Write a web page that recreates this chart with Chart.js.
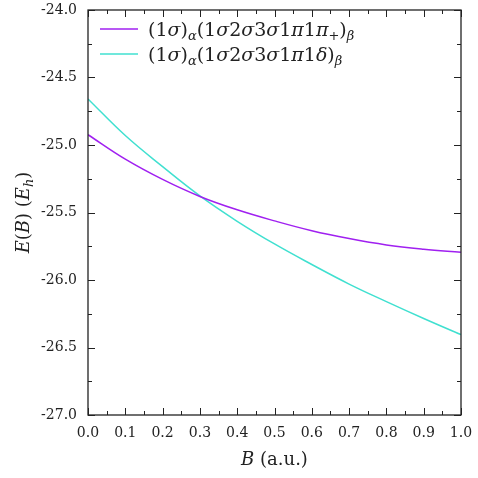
<!DOCTYPE html>
<html>
<head>
<meta charset="utf-8">
<script src="https://cdn.jsdelivr.net/npm/chart.js@4.4.0/dist/chart.umd.min.js"></script>
<style>
  html, body { margin: 0; padding: 0; background: #fff; }
  #wrap { width: 478px; height: 478px; }
</style>
</head>
<body>
<div id="wrap"><canvas id="energy-chart" width="478" height="478"></canvas></div>
<script>
// magnetic field strength B (a.u.)
const bValues = [0.0, 0.1, 0.2, 0.3, 0.4, 0.5, 0.6, 0.7, 0.8, 0.9, 1.0];
// energies (E_h)
const energyPiPlus = [-24.924, -25.105, -25.255, -25.381, -25.480, -25.562, -25.635, -25.693, -25.740, -25.772, -25.795];
const energyDelta = [-24.659, -24.930, -25.160, -25.377, -25.565, -25.733, -25.885, -26.030, -26.160, -26.285, -26.405];

// _{..} = subscript, |..| = upright text, other letters italic (math)
const seriesLabels = ['(1σ)_{α}(1σ2σ3σ1π1π_{+})_{β}', '(1σ)_{α}(1σ2σ3σ1π1δ)_{β}'];
const seriesColors = ['#a020f0', '#40e0d0'];
const xTitle = 'B |(a.u.)|';
const yTitle = 'E(B) (E_{h})';

const xMin = 0, xMax = 1, xStep = 0.1;
const yMin = -27, yMax = -24, yStep = 0.5;

const FONT = '"DejaVu Serif"';

function parseRich(str) {
    let segs = [];
    let sub = false, roman = false;
    for (let i = 0; i < str.length; i++) {
        let c = str[i];
        if (c === '_' && str[i + 1] === '{') { sub = true; i++; continue; }
        if (c === '}' && sub) { sub = false; continue; }
        if (c === '|') { roman = !roman; continue; }
        let italic = !roman && /[A-Za-z\u0370-\u03FF]/.test(c);
        let last = segs[segs.length - 1];
        if (last && last.sub === sub && last.italic === italic) {
            last.t += c;
        } else {
            segs.push({ t: c, sub: sub, italic: italic });
        }
    }
    return segs;
}

function drawRich(ctx, str, x, y, size, align) {
    let segs = parseRich(str);
    let total = 0;
    segs.forEach(s => {
        s.font = (s.italic ? 'italic ' : '') + (s.sub ? Math.round(size * 0.7) : size) + 'px ' + FONT;
        ctx.font = s.font;
        s.w = ctx.measureText(s.t).width;
        total += s.w;
    });
    let cx = align === 'center' ? x - total / 2 : x;
    ctx.textAlign = 'left';
    ctx.textBaseline = 'alphabetic';
    segs.forEach(s => {
        ctx.font = s.font;
        ctx.fillText(s.t, cx, y + (s.sub ? size * 0.22 : 0));
        cx += s.w;
    });
}

// closed frame with inward major/minor ticks on all four sides
const frameTicks = {
    id: 'frameTicks',
    afterDraw(chart) {
        const { ctx, chartArea: a, scales } = chart;
        const xs = scales.x, ys = scales.y;
        ctx.save();
        ctx.strokeStyle = '#222';
        ctx.lineWidth = 1.3;
        ctx.strokeRect(a.left, a.top, a.right - a.left, a.bottom - a.top);
        ctx.lineWidth = 1;
        ctx.beginPath();
        for (let v = xMin; v <= xMax + 1e-9; v += xStep / 2) {
            let major = Math.abs(Math.round(v / xStep) * xStep - v) < 1e-6;
            let len = major ? 7 : 4;
            let px = Math.round(xs.getPixelForValue(v)) + 0.5;
            ctx.moveTo(px, a.bottom); ctx.lineTo(px, a.bottom - len);
            ctx.moveTo(px, a.top); ctx.lineTo(px, a.top + len);
        }
        for (let v = yMin; v <= yMax + 1e-9; v += yStep / 2) {
            let major = Math.abs(Math.round(v / yStep) * yStep - v) < 1e-6;
            let len = major ? 7 : 4;
            let py = Math.round(ys.getPixelForValue(v)) + 0.5;
            ctx.moveTo(a.left, py); ctx.lineTo(a.left + len, py);
            ctx.moveTo(a.right, py); ctx.lineTo(a.right - len, py);
        }
        ctx.stroke();
        ctx.restore();
    }
};

// legend and axis titles with italics and subscripts
const richText = {
    id: 'richText',
    afterDraw(chart) {
        const { ctx, chartArea: a } = chart;
        ctx.save();
        ctx.fillStyle = '#222';
        chart.data.datasets.forEach((ds, i) => {
            let ly = a.top + 19 + i * 25;
            ctx.strokeStyle = ds.borderColor;
            ctx.lineWidth = 1.5;
            ctx.beginPath();
            ctx.moveTo(a.left + 12, ly);
            ctx.lineTo(a.left + 50, ly);
            ctx.stroke();
            drawRich(ctx, ds.label, a.left + 60, ly + 7, 19, 'left');
        });
        drawRich(ctx, xTitle, (a.left + a.right) / 2, 465, 18, 'center');
        ctx.translate(29, (a.top + a.bottom) / 2);
        ctx.rotate(-Math.PI / 2);
        drawRich(ctx, yTitle, 0, 0, 18, 'center');
        ctx.restore();
    }
};

function toPoints(ys) {
    return bValues.map((b, i) => ({ x: b, y: ys[i] }));
}

let ctx = document.getElementById('energy-chart').getContext('2d');

window.myChart = new Chart(ctx, {
    type: 'line',
    data: {
        datasets: [
            {
                label: seriesLabels[0],
                data: toPoints(energyPiPlus),
                borderColor: seriesColors[0],
                borderWidth: 1.5,
                pointRadius: 0,
                tension: 0.4
            },
            {
                label: seriesLabels[1],
                data: toPoints(energyDelta),
                borderColor: seriesColors[1],
                borderWidth: 1.5,
                pointRadius: 0,
                tension: 0.4
            }
        ]
    },
    options: {
        responsive: false,
        animation: false,
        layout: { padding: 0 },
        plugins: {
            legend: { display: false },
            tooltip: { enabled: false }
        },
        scales: {
            x: {
                type: 'linear',
                min: xMin,
                max: xMax,
                grid: { display: false, drawTicks: false },
                border: { display: false },
                ticks: {
                    stepSize: xStep,
                    padding: 10,
                    color: '#222',
                    font: { family: FONT, size: 14 },
                    maxRotation: 0,
                    callback: v => v.toFixed(1)
                },
                afterFit: scale => {
                    scale.height = 63;
                    scale.paddingLeft = 0;
                    scale.paddingRight = 17;
                }
            },
            y: {
                type: 'linear',
                min: yMin,
                max: yMax,
                grid: { display: false, drawTicks: false },
                border: { display: false },
                ticks: {
                    stepSize: yStep,
                    padding: 11,
                    color: '#222',
                    font: { family: FONT, size: 14 },
                    callback: v => v.toFixed(1)
                },
                afterFit: scale => {
                    scale.width = 88;
                    scale.paddingTop = 10;
                    scale.paddingBottom = 0;
                }
            }
        }
    },
    plugins: [frameTicks, richText]
});
</script>
</body>
</html>
